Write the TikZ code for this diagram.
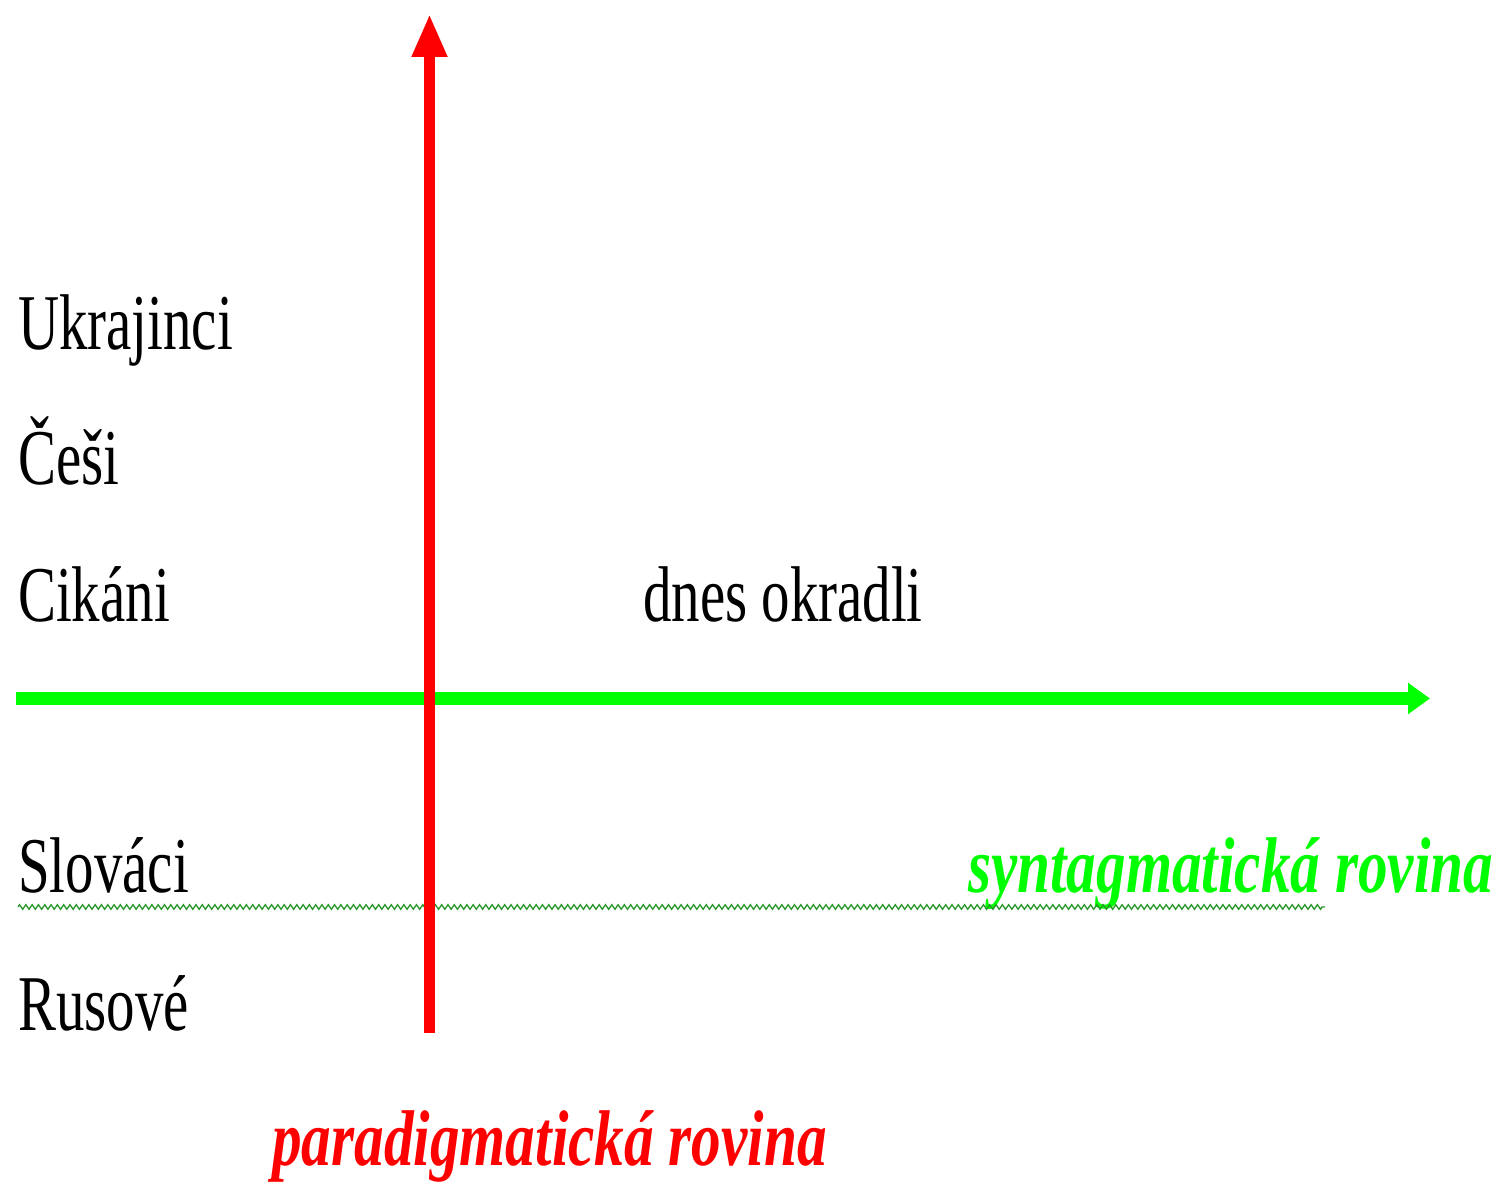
\documentclass[tikz,border=0pt]{standalone}
\usepackage{fontspec}
\setmainfont{Liberation Serif}
\newfontfamily\condrm[FakeStretch=0.72]{Liberation Serif}
\newfontfamily\condbi[FakeStretch=0.75]{Liberation Serif}
\usetikzlibrary{arrows.meta,decorations.pathmorphing}
\definecolor{axisred}{RGB}{255,0,0}
\definecolor{axisgreen}{RGB}{0,255,0}
\definecolor{wavegreen}{RGB}{40,150,40}
\tikzset{
  word/.style={anchor=base west, inner sep=0pt, font=\condrm\fontsize{79}{79}\selectfont, text=black},
  axislabel/.style={anchor=base west, inner sep=0pt, font=\condbi\bfseries\itshape\fontsize{79}{79}\selectfont},
  redaxis/.style={draw=axisred, line width=10.5pt, -{Triangle[length=43pt, width=33pt]}},
  greenaxis/.style={draw=axisgreen, line width=12.5pt, -{Triangle[length=22pt, width=30pt]}},
  wavy/.style={draw=wavegreen, line width=1.3pt, decorate, decoration={zigzag, segment length=6.3pt, amplitude=2.3pt}}
}
\begin{document}
\begin{tikzpicture}[x=1pt,y=1pt]
\useasboundingbox (0,0) rectangle (1499,1184);
% text
\node[word] (ukr) at (18,834) {Ukrajinci};
\node[word] (ces) at (18,699) {Češi};
\node[word] (cik) at (18,562) {Cikáni};
\node[word] (dnes) at (643,562) {dnes okradli};
\node[word] (slo) at (18,291) {Slováci};
\node[word] (rus) at (18,154) {Rusové};
\node[axislabel, text=axisgreen] (synt) at (968,291) {syntagmatická rovina};
\node[axislabel, text=axisred] (para) at (272,19) {paradigmatická rovina};
% wavy underline
\coordinate (wa) at (18,277);
\coordinate (wb) at (1325,277);
\draw[wavy] (wa) -- (wb);
% axes
\coordinate (gs) at (16,485.5);
\coordinate (ge) at (1430,485.5);
\coordinate (rs) at (429.5,151);
\coordinate (re) at (429.5,1170);
\draw[greenaxis] (gs) -- (ge);
\draw[redaxis] (rs) -- (re);
\end{tikzpicture}
\end{document}
